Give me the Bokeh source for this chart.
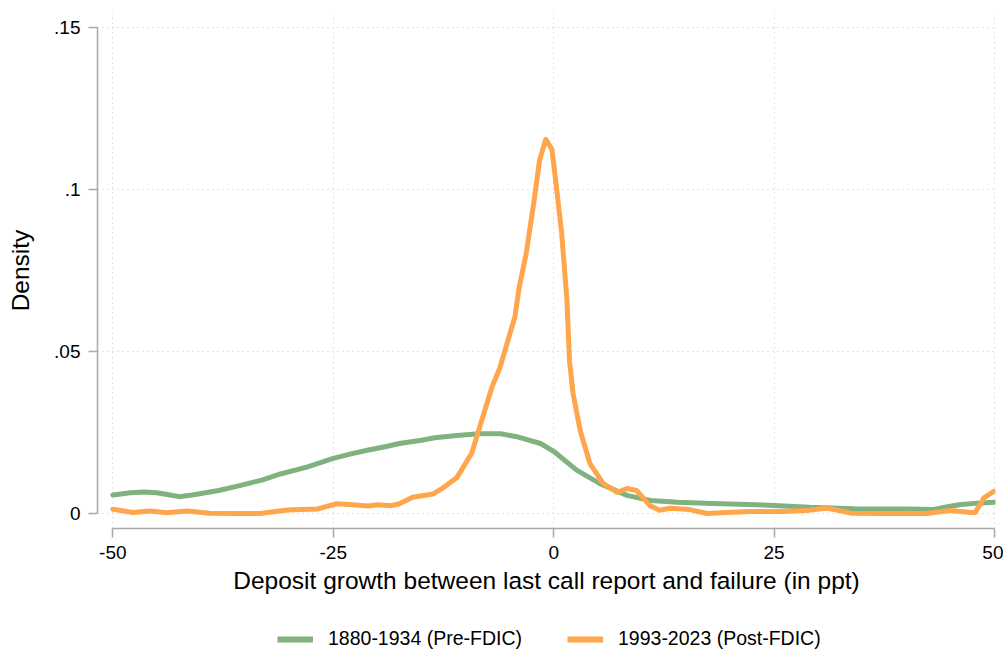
from bokeh.plotting import figure
from bokeh.layouts import column
from bokeh.models import Range1d, FixedTicker, Legend, LegendItem
from bokeh.embed import file_html
from bokeh.resources import INLINE

# ---- data ----
pre_x = [-50, -48, -46.5, -45, -43.5, -42.5, -41, -38, -35.5, -33, -31, -28, -25, -23, -21, -19,
         -17.5, -15, -13.5, -11, -8.5, -6, -4, -1.5, 0, 2.6, 5.2, 8.3, 11, 14, 18, 22, 25, 29, 34,
         40, 43, 44.5, 46, 48, 50]
pre_y = [0.0057, 0.0064, 0.0066, 0.0064, 0.0057, 0.0052, 0.0057, 0.0071, 0.0087, 0.0104, 0.0122,
         0.0143, 0.0170, 0.0184, 0.0196, 0.0207, 0.0216, 0.0226, 0.0234, 0.0241, 0.0246, 0.0246,
         0.0236, 0.0216, 0.0192, 0.0134, 0.0093, 0.0056, 0.0040, 0.0035, 0.0031, 0.0028, 0.0025,
         0.0019, 0.0015, 0.0014, 0.0012, 0.0020, 0.0027, 0.0032, 0.0035]

post_x = [-50, -47.7, -45.8, -43.9, -41.6, -39, -36, -33.3, -30.2, -26.8, -24.6, -22.5, -21, -20,
          -18.5, -17.5, -16, -13.7, -12.5, -11, -9.3, -8.4, -7.0, -6.1, -4.4, -3.9, -3.1, -2.2,
          -1.6, -0.9, -0.2, 0.3, 0.9, 1.5, 1.8, 2.2, 3.0, 4.1, 5.6, 7.2, 8.3, 9.4, 10.9, 12, 13.2,
          15.4, 17.4, 19.6, 22.3, 26, 29, 31, 33.7, 37.3, 42.3, 45, 47.3, 47.8, 48.8, 49.9]
post_y = [0.0013, 0.0003, 0.0008, 0.0002, 0.0008, 0.0001, 0.0000, 0.0000, 0.0011, 0.0014, 0.0030,
          0.0026, 0.0023, 0.0027, 0.0024, 0.0030, 0.0050, 0.0060, 0.0080, 0.0110, 0.0186, 0.0266,
          0.0390, 0.0450, 0.0607, 0.0700, 0.0805, 0.0970, 0.1090, 0.1155, 0.1124, 0.1010, 0.0867,
          0.0660, 0.0470, 0.0370, 0.0257, 0.0155, 0.0093, 0.0065, 0.0077, 0.0071, 0.0025, 0.0010,
          0.0016, 0.0012, 0.0000, 0.0003, 0.0006, 0.0006, 0.0010, 0.0017, 0.0001, 0.0000, 0.0000,
          0.0009, 0.0003, 0.0003, 0.0048, 0.0068]

x_ticks = [-50, -25, 0, 25, 50]
x_tick_labels = ["-50", "-25", "0", "25", "50"]
y_ticks = [0, 0.05, 0.1, 0.15]
y_tick_labels = ["0", ".05", ".1", ".15"]

series_labels = ["1880-1934 (Pre-FDIC)", "1993-2023 (Post-FDIC)"]
colors = ["#7fb27f", "#ffa54c"]

FONT = "Liberation Sans"

p = figure(width=1003, height=615, output_backend="svg", toolbar_location=None,
           x_range=Range1d(-51.74, 50.11), y_range=Range1d(-0.00463, 0.15463),
           min_border_left=97, min_border_right=8, min_border_top=12, min_border_bottom=87)
p.outline_line_color = None
p.background_fill_color = "white"
p.border_fill_color = "white"

p.line(pre_x, pre_y, line_color=colors[0], line_width=5, line_join="round", line_cap="round")
p.line(post_x, post_y, line_color=colors[1], line_width=5, line_join="round", line_cap="round")

# axes
for ax in (p.xaxis[0], p.yaxis[0]):
    ax.axis_line_color = "#a8a8a8"
    ax.axis_line_width = 1.5
    ax.major_tick_line_color = "#a8a8a8"
    ax.major_tick_line_width = 1.5
    ax.major_tick_out = 9
    ax.major_tick_in = 0
    ax.minor_tick_line_color = None
    ax.major_label_text_font = FONT
    ax.major_label_text_font_size = "19px"
    ax.major_label_text_color = "black"
    ax.axis_label_text_font = FONT
    ax.axis_label_text_font_size = "24.5px"
    ax.axis_label_text_font_style = "normal"
    ax.axis_label_text_color = "black"

p.xaxis.ticker = FixedTicker(ticks=x_ticks)
p.xaxis.major_label_overrides = dict(zip(x_ticks, x_tick_labels))
p.xaxis.bounds = (-50, 50)
p.xaxis.axis_label = "Deposit growth between last call report and failure (in ppt)"
p.xaxis.major_label_standoff = 8
p.xaxis.axis_label_standoff = 5

p.yaxis.ticker = FixedTicker(ticks=y_ticks)
p.yaxis.major_label_overrides = dict(zip(y_ticks, y_tick_labels))
p.yaxis.bounds = (0, 0.15)
p.yaxis.axis_label = "Density"
p.yaxis.major_label_standoff = 8
p.yaxis.axis_label_standoff = 17
p.yaxis.major_label_orientation = "horizontal"

for g in (p.xgrid[0], p.ygrid[0]):
    g.grid_line_color = "#c8c8c8"
    g.grid_line_dash = "1 4"
    g.grid_line_width = 1
p.xgrid.ticker = FixedTicker(ticks=x_ticks)
p.ygrid.ticker = FixedTicker(ticks=y_ticks)

# ---- legend strip below the plot (its frame is aligned with the main frame) ----
lg = figure(width=1003, height=35, output_backend="svg", toolbar_location=None,
            x_axis_type=None, y_axis_type=None, x_range=Range1d(0, 1), y_range=Range1d(0, 1),
            min_border_left=0, min_border_right=0, min_border_top=0, min_border_bottom=0)
lg.outline_line_color = None
lg.grid.visible = False
# legend-only renderers, placed outside the visible range so only their legend glyphs show
l1 = lg.line([5, 6], [5, 5], line_color=colors[0], line_width=6)
l2 = lg.line([5, 6], [5, 5], line_color=colors[1], line_width=6)
legend = Legend(items=[LegendItem(label=series_labels[0], renderers=[l1]),
                       LegendItem(label=series_labels[1], renderers=[l2])],
                orientation="horizontal", location=(180, 0),
                label_text_font=FONT, label_text_font_size="19.5px", label_text_color="black",
                glyph_width=36, glyph_height=20, label_height=20, label_standoff=15, spacing=45,
                border_line_color=None, background_fill_alpha=0, margin=0, padding=0)
lg.add_layout(legend, "center")

layout = column(p, lg, spacing=0)

open("out.html", "w").write(file_html(layout, INLINE))
